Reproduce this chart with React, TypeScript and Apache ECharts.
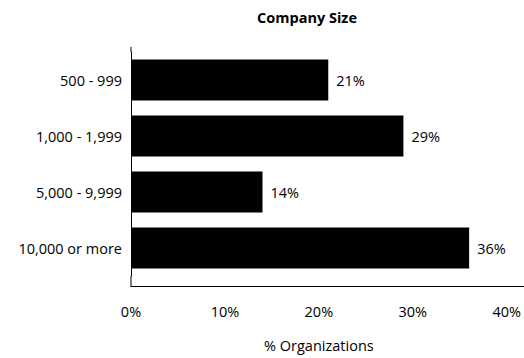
import React, { useEffect, useRef } from "react";
import * as echarts from "echarts";

const categories = ["500 - 999", "1,000 - 1,999", "5,000 - 9,999", "10,000 or more"];
const values = [21, 29, 14, 36];
const xTicks = [0, 10, 20, 30, 40];
const titleText = "Company Size";
const xAxisName = "% Organizations";

const FONT = "'Open Sans', 'Noto Sans', sans-serif";
const FS = 14.5;

export default function App() {
  const ref = useRef<HTMLDivElement>(null);
  useEffect(() => {
    if (!ref.current) return;
    const chart = echarts.init(ref.current, undefined, { renderer: "svg" });
    chart.setOption({
      animation: false,
      backgroundColor: "#fff",
      textStyle: { fontFamily: FONT },
      title: {
        text: titleText,
        left: 252,
        top: 5,
        textStyle: { fontFamily: FONT, fontSize: 14.5, fontWeight: "bold", color: "#000" },
      },
      grid: { left: 131, right: 17, top: 52, bottom: 82, containLabel: false },
      xAxis: {
        type: "value",
        min: xTicks[0],
        max: xTicks[xTicks.length - 1],
        interval: 10,
        offset: 10,
        name: xAxisName,
        nameLocation: "middle",
        nameGap: 52,
        nameTextStyle: { fontFamily: FONT, fontSize: FS, color: "#000" },
        axisLine: { show: true, lineStyle: { color: "#000", width: 1 } },
        axisTick: { show: false },
        splitLine: { show: false },
        axisLabel: {
          margin: 18,
          fontFamily: FONT,
          fontSize: FS,
          color: "#000",
          formatter: (v: number) => `${v}%`,
        },
      },
      yAxis: {
        type: "category",
        data: categories,
        inverse: true,
        axisLine: { show: true, lineStyle: { color: "#000", width: 1 } },
        axisTick: { show: false },
        axisLabel: { margin: 9, fontFamily: FONT, fontSize: FS, color: "#000" },
      },
      series: [
        {
          type: "bar",
          data: values,
          barWidth: 41,
          itemStyle: { color: "#000" },
          label: {
            show: true,
            position: "right",
            distance: 8,
            fontFamily: FONT,
            fontSize: FS,
            color: "#000",
            formatter: (p: any) => `${p.value}%`,
          },
        },
      ],
      graphic: [
        { type: "line", shape: { x1: 131, y1: 47, x2: 131, y2: 52 }, style: { stroke: "#000", lineWidth: 1 } },
        { type: "line", shape: { x1: 131, y1: 276, x2: 131, y2: 286.5 }, style: { stroke: "#000", lineWidth: 1 } },
        { type: "line", shape: { x1: 507, y1: 286.5, x2: 524, y2: 286.5 }, style: { stroke: "#000", lineWidth: 1 } },
      ],
    });
    return () => chart.dispose();
  }, []);
  return (
    <div
      ref={ref}
      style={{ position: "fixed", left: 0, top: 0, width: 524, height: 358, background: "#fff" }}
    />
  );
}
